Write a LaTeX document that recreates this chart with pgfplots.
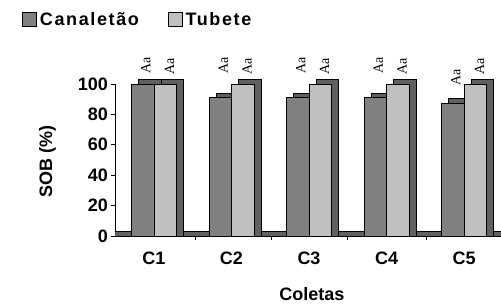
\documentclass[border=0pt]{standalone}
\usepackage{fontspec}
\setmainfont{Liberation Sans}
\newfontfamily\labfont{Liberation Serif}
\newfontfamily\legfont{Liberation Sans}[LetterSpace=9]
\usepackage{pgfplots}
\pgfplotsset{compat=1.18}
\definecolor{canfront}{RGB}{128,128,128}
\definecolor{tubfront}{RGB}{192,192,192}
\definecolor{depth}{RGB}{96,96,96}
\begin{document}
\begin{tikzpicture}
\useasboundingbox (-115pt,-70pt) rectangle (386pt,236pt);
\begin{axis}[
  at={(0,0)}, anchor=south west,
  scale only axis, width=386pt, height=174.8pt,
  xmin=-0.503, xmax=4.477, ymin=0, ymax=115,
  axis lines=left, axis line style={-, black, line width=0.8pt},
  y axis line style={shorten >=22.8pt},
  tick align=outside,
  ytick={0,20,...,100}, major tick length=4pt,
  tick style={black, line width=0.8pt},
  xtick={0.53,1.52,2.5,3.51}, xticklabels={},
  extra x ticks={0,1,2,3,4}, extra x tick labels={C1,C2,C3,C4,C5},
  extra x tick style={major tick length=0pt, xticklabel style={inner sep=0pt, anchor=north, yshift=-16pt}},
  /pgf/number format/assume math mode=true,
  tick label style={font=\bfseries\fontsize{18}{18}\selectfont},
  yticklabel style={inner sep=3pt},
  xlabel={Coletas}, ylabel={SOB (\%)},
  label style={font=\bfseries\fontsize{18}{18}\selectfont},
  xlabel style={at={(axis description cs:0.51,-0.335)}, anchor=center},
  ylabel style={at={(axis description cs:-0.175,0.429)}, anchor=center},
  legend style={at={(rel axis cs:-0.24,1.2386)}, anchor=west, draw=none, fill=none,
    inner sep=0pt, outer sep=0pt, legend columns=2,
    font=\legfont\bfseries\fontsize{18}{18}\selectfont,
    nodes={inner sep=3pt},
    /tikz/every even column/.append style={column sep=26pt}},
]
% floor (3D base of the empty position)
\addplot[ybar, bar width=0.35, bar shift=-0.465, fill=depth, draw=black, line width=0.6pt, forget plot]
  coordinates {(0,2.96)(1,2.96)(2,2.96)(3,2.96)(4,2.96)(5,2.96)};
% Canaletao depth
\addplot[ybar, bar width=0.29, bar shift=-0.054, fill=depth, draw=black, line width=0.6pt, forget plot]
  coordinates {(0,102.96)(1,93.96)(2,93.96)(3,93.96)(4,90.46)};
% Canaletao front
\addplot[ybar, bar width=0.29, bar shift=-0.145, fill=canfront, draw=black, line width=0.6pt,
  legend image code/.code={\draw[fill=canfront,draw=black,line width=0.6pt] (0pt,-7pt) rectangle (14pt,7pt);}]
  coordinates {(0,100)(1,91)(2,91)(3,91)(4,87.5)};
\addlegendentry{Canaletão}
% Tubete depth
\addplot[ybar, bar width=0.29, bar shift=0.236, fill=depth, draw=black, line width=0.6pt, forget plot]
  coordinates {(0,102.96)(1,102.96)(2,102.96)(3,102.96)(4,102.96)};
% Tubete front
\addplot[ybar, bar width=0.29, bar shift=0.145, fill=tubfront, draw=black, line width=0.6pt,
  legend image code/.code={\draw[fill=tubfront,draw=black,line width=0.6pt] (0pt,-7pt) rectangle (14pt,7pt);}]
  coordinates {(0,100)(1,100)(2,100)(3,100)(4,100)};
\addlegendentry{Tubete}
% significance letters
\addplot[draw=none, mark=none, forget plot,
  nodes near coords={\labfont\fontsize{14}{14}\selectfont Aa},
  every node near coord/.append style={rotate=90, anchor=west, inner sep=0pt}]
  coordinates {(-0.105,107)(0.895,107)(1.895,107)(2.895,107)(3.895,99)
               (0.2,106)(1.2,106)(2.2,106)(3.2,106)(4.2,106)};
\end{axis}
\end{tikzpicture}
\end{document}
